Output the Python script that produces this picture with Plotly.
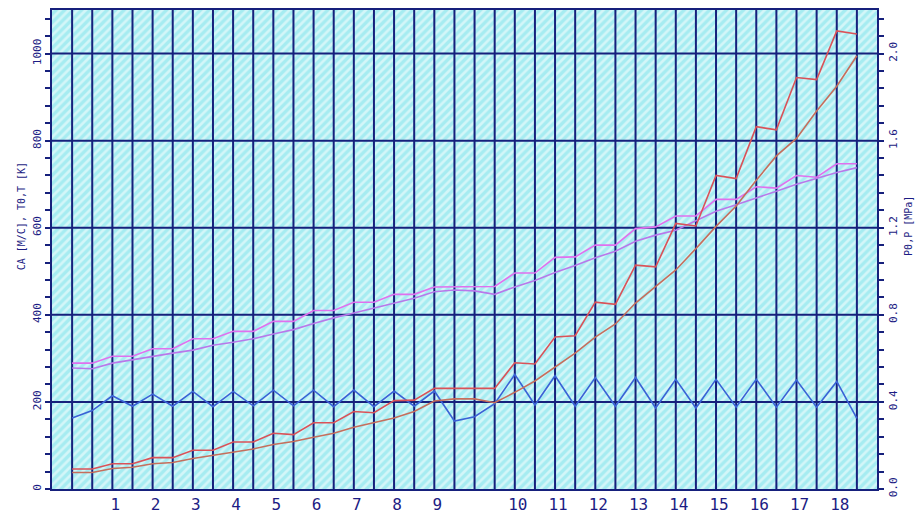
import plotly.graph_objects as go

# Compressor stage readings along the flow path (stations 1..40)
station = list(range(1, 41))

# Velocity CA [m/s]
ca = [163, 180, 214, 190, 218, 190, 224, 189, 224, 191, 227, 191, 227, 189, 227, 189,
      225, 190, 225, 156, 166, 196, 263, 193, 260, 190, 256, 190, 256, 186, 252, 186,
      252, 188, 252, 188, 250, 188, 247, 162]

# Stagnation and static temperature T0, T [K]
t0 = [289, 289, 305, 305, 322, 322, 345, 345, 362, 362, 385, 385, 410, 410, 429, 429,
      447, 447, 464, 464, 464, 465, 496, 496, 532, 533, 560, 560, 598, 602, 627, 627,
      665, 665, 694, 691, 720, 716, 747, 747]
t = [278, 276, 289, 297, 304, 312, 319, 330, 337, 345, 356, 366, 380, 393, 404, 415,
     427, 438, 453, 457, 455, 447, 464, 479, 497, 513, 531, 546, 569, 583, 594, 616,
     638, 653, 668, 684, 700, 713, 727, 738]

# Stagnation and static pressure P0, P [MPa]
p0 = [0.092, 0.092, 0.116, 0.116, 0.144, 0.144, 0.178, 0.178, 0.216, 0.216, 0.256, 0.250,
      0.304, 0.304, 0.356, 0.350, 0.406, 0.408, 0.462, 0.462, 0.462, 0.462, 0.580, 0.574,
      0.698, 0.704, 0.858, 0.848, 1.028, 1.020, 1.220, 1.208, 1.440, 1.426, 1.664, 1.650,
      1.890, 1.880, 2.104, 2.090]
p = [0.076, 0.076, 0.094, 0.100, 0.116, 0.122, 0.140, 0.154, 0.170, 0.184, 0.204, 0.218,
     0.238, 0.256, 0.284, 0.304, 0.326, 0.356, 0.404, 0.414, 0.414, 0.396, 0.444, 0.496,
     0.558, 0.624, 0.698, 0.758, 0.854, 0.928, 1.006, 1.104, 1.206, 1.300, 1.418, 1.530,
     1.610, 1.736, 1.850, 1.990]

# Stage numbers shown under the axis and the stations they belong to
stage_labels = [str(i) for i in range(1, 19)]
stage_pos = [3, 5, 7, 9, 11, 13, 15, 17, 19, 23, 25, 27, 29, 31, 33, 35, 37, 39]

X_MAX = 41
Y_MAX = 1100
Y2_MAX = 2.2
NAVY = "#16207c"
TEXT = "#1c1c84"
CYAN = "#a6ecf1"

fig = go.Figure()

# hatched plotting field
fig.add_trace(go.Scatter(
    x=[0, X_MAX, X_MAX, 0, 0], y=[0, 0, Y_MAX, Y_MAX, 0],
    mode="lines", line=dict(width=0), fill="toself",
    fillcolor=CYAN,
    fillpattern=dict(shape="/", bgcolor=CYAN, fgcolor="#ffffff", size=6, solidity=0.45),
    hoverinfo="skip", showlegend=False))

# grid: a line at every station, horizontal lines every 200
gx, gy = [], []
for v in range(1, X_MAX):
    gx += [v, v, None]
    gy += [0, Y_MAX, None]
for v in range(200, Y_MAX, 200):
    gx += [0, X_MAX, None]
    gy += [v, v, None]
fig.add_trace(go.Scatter(x=gx, y=gy, mode="lines", line=dict(color=NAVY, width=2),
                         hoverinfo="skip", showlegend=False))

fig.add_trace(go.Scatter(x=station, y=t, mode="lines", name="T",
                         line=dict(color="#b878ea", width=1.6)))
fig.add_trace(go.Scatter(x=station, y=t0, mode="lines", name="T0",
                         line=dict(color="#e070ee", width=1.6)))
fig.add_trace(go.Scatter(x=station, y=p, mode="lines", name="P", yaxis="y2",
                         line=dict(color="#c66e5c", width=1.6)))
fig.add_trace(go.Scatter(x=station, y=p0, mode="lines", name="P0", yaxis="y2",
                         line=dict(color="#da5258", width=1.6)))
fig.add_trace(go.Scatter(x=station, y=ca, mode="lines", name="CA",
                         line=dict(color="#3a62d6", width=1.6)))

fig.update_layout(
    width=915, height=522,
    margin=dict(l=52, r=38, t=8, b=19),
    paper_bgcolor="white", plot_bgcolor=CYAN,
    showlegend=False,
    font=dict(family="DejaVu Sans Mono", color=TEXT),
    xaxis=dict(range=[0, X_MAX], tickmode="array", tickvals=[v + 0.15 for v in stage_pos],
               ticktext=stage_labels, ticks="", showgrid=False, zeroline=False,
               showline=True, linecolor=NAVY, linewidth=2, mirror=True,
               tickfont=dict(size=16, color=TEXT, family="DejaVu Sans Mono")),
    yaxis=dict(range=[0, Y_MAX], tick0=0, dtick=200, ticks="outside", ticklen=5,
               tickwidth=2, tickcolor=NAVY, tickangle=-90, showgrid=False, zeroline=False,
               showline=True, linecolor=NAVY, linewidth=2,
               minor=dict(dtick=40, ticks="outside", ticklen=5, tickwidth=2,
                          tickcolor=NAVY, showgrid=False),
               tickfont=dict(size=11, color=TEXT, family="DejaVu Sans Mono")),
    yaxis2=dict(range=[0, Y2_MAX], overlaying="y", side="right", tick0=0, dtick=0.4,
                tickformat=".1f", ticks="outside", ticklen=5, tickwidth=2, tickcolor=NAVY,
                tickangle=-90, showgrid=False, zeroline=False, showline=True,
                linecolor=NAVY, linewidth=2,
                minor=dict(dtick=0.08, ticks="outside", ticklen=5, tickwidth=2,
                           tickcolor=NAVY, showgrid=False),
                tickfont=dict(size=11, color=TEXT, family="DejaVu Sans Mono")),
    annotations=[
        dict(text="CA [M/C], T0,T [K]", xref="paper", yref="paper", x=-0.036, y=0.57,
             textangle=-90, showarrow=False, xanchor="center", yanchor="middle",
             font=dict(size=10, color=TEXT, family="DejaVu Sans Mono")),
        dict(text="P0,P [MPa]", xref="paper", yref="paper", x=1.038, y=0.55,
             textangle=-90, showarrow=False, xanchor="center", yanchor="middle",
             font=dict(size=10, color=TEXT, family="DejaVu Sans Mono")),
    ],
)

fig.write_html("out.html")
